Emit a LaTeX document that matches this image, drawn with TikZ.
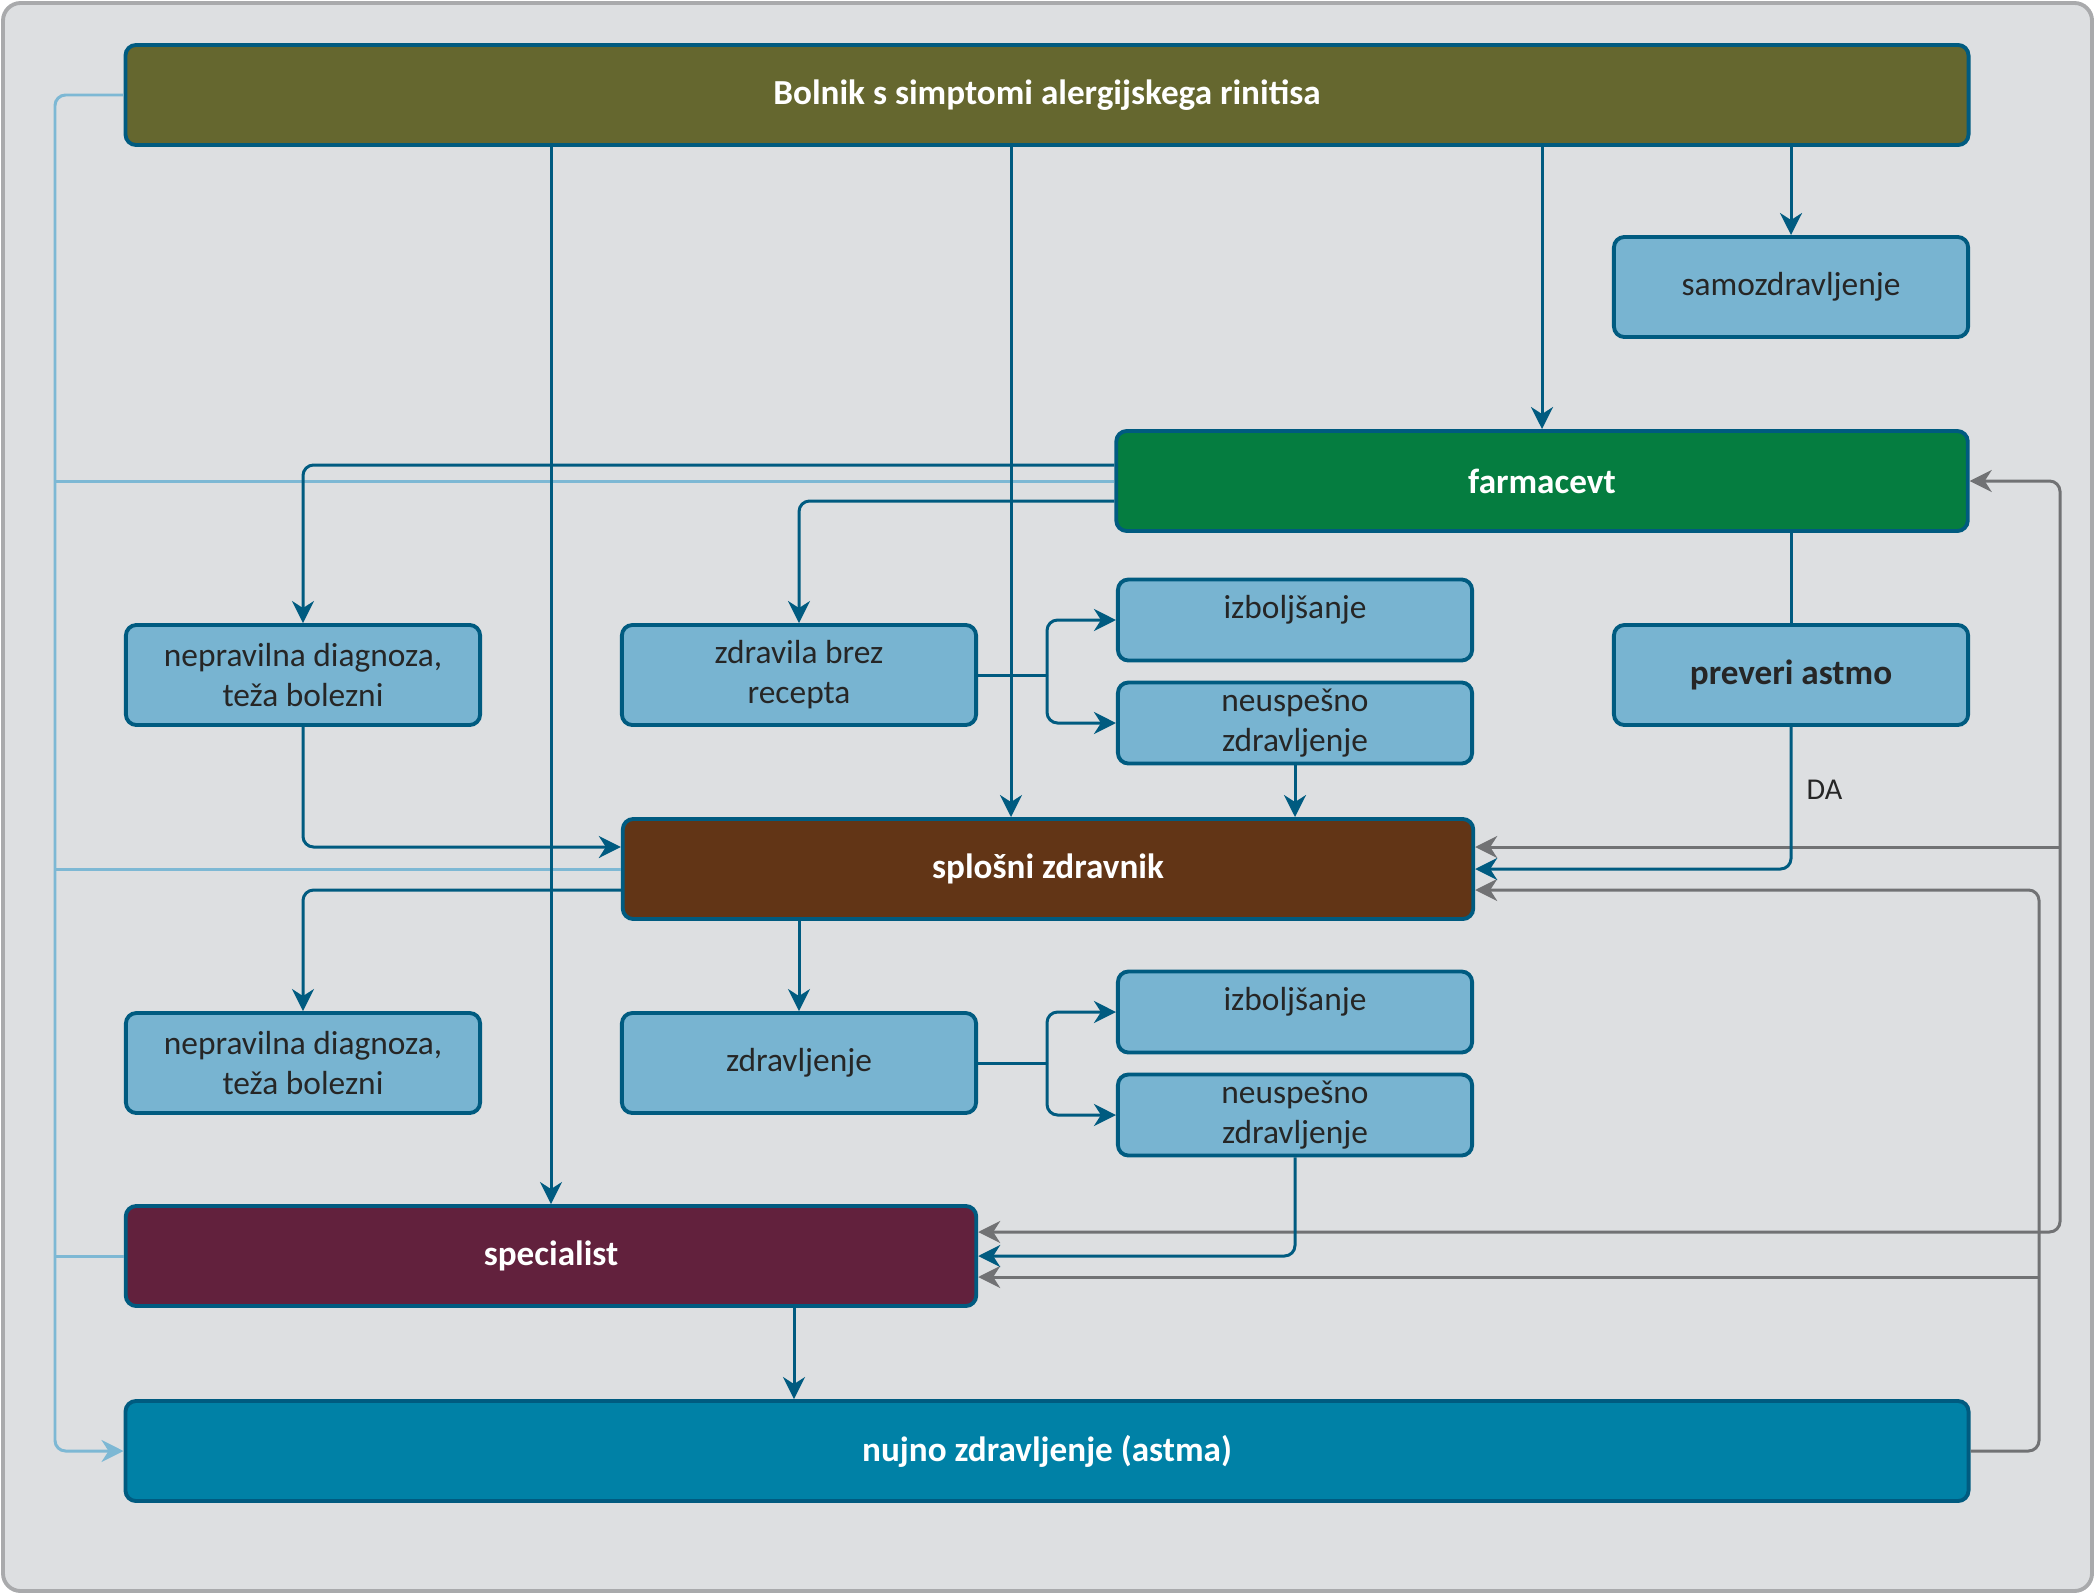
\documentclass[tikz,border=0pt]{standalone}
\usepackage{fontspec}
\setmainfont{Carlito}
\usetikzlibrary{arrows.meta,calc}
\definecolor{framegray}{HTML}{A9AAAC}
\definecolor{panelbg}{HTML}{DDDFE1}
\definecolor{edgeblue}{HTML}{005B80}
\definecolor{paleblue}{HTML}{78B4D1}
\definecolor{trunkblue}{HTML}{7DB8D4}
\definecolor{returngray}{HTML}{717274}
\definecolor{olive}{HTML}{65672F}
\definecolor{pharmgreen}{HTML}{057D40}
\definecolor{gpbrown}{HTML}{623516}
\definecolor{specplum}{HTML}{62213D}
\definecolor{urgentblue}{HTML}{0081A6}
\tikzset{
  >={Stealth[length=2.2mm,width=2.2mm,inset=0.7mm]},
  stage/.style={rounded corners=3pt, draw=edgeblue, line width=1.1pt, text=white, font=\fontsize{10}{12}\selectfont\bfseries, minimum height=1cm, inner sep=0pt},
  option/.style={rounded corners=3pt, draw=edgeblue, line width=1.1pt, fill=paleblue, text=black!85, align=center, font=\fontsize{9.5}{11.4}\selectfont, minimum width=3.54cm, minimum height=1cm, inner sep=0pt},
  flow/.style={->, draw=edgeblue, line width=0.85pt, rounded corners=3pt},
  back/.style={flow, draw=returngray},
  trunk/.style={draw=trunkblue, line width=0.85pt, rounded corners=3pt}
}
\begin{document}
\begin{tikzpicture}[x=0.01cm, y=-0.01cm]
  \useasboundingbox (0,0) rectangle (2095,1594);
  \draw[framegray, line width=1.1pt, fill=panelbg, rounded corners=5pt] (3,3) rectangle (2092,1591);

  \node[stage, fill=olive, minimum width=18.42cm] (patient) at (1047,95) {Bolnik s simptomi alergijskega rinitisa};
  \node[option] (selfcare) at (1791,287) {samozdravljenje};
  \node[stage, fill=pharmgreen, minimum width=8.51cm] (pharm) at (1542,481) {farmacevt};
  \node[option] (wrongA) at (303,675) {nepravilna diagnoza,\\teža bolezni};
  \node[option] (otc) at (799,675) {zdravila brez\\recepta};
  \node[option, minimum height=0.81cm, text depth=2.6mm] (betterA) at (1295,620) {izboljšanje};
  \node[option, minimum height=0.81cm] (failA) at (1295,723) {neuspešno\\zdravljenje};
  \node[option, font=\fontsize{10}{12}\selectfont\bfseries] (asthma) at (1791,675) {preveri astmo};
  \node[stage, fill=gpbrown, minimum width=8.5cm] (gp) at (1048,869) {splošni zdravnik};
  \node[option] (wrongB) at (303,1063) {nepravilna diagnoza,\\teža bolezni};
  \node[option] (therapy) at (799,1063) {zdravljenje};
  \node[option, minimum height=0.81cm, text depth=2.6mm] (betterB) at (1295,1012) {izboljšanje};
  \node[option, minimum height=0.81cm] (failB) at (1295,1115) {neuspešno\\zdravljenje};
  \node[stage, fill=specplum, minimum width=8.5cm] (spec) at (551,1256) {specialist};
  \node[stage, fill=urgentblue, minimum width=18.42cm] (urgent) at (1047,1451) {nujno zdravljenje (astma)};

  \coordinate (rail) at (55,95);
  \draw[trunk, ->] (patient.west) -- (rail) |- (urgent.west);
  \draw[trunk] (pharm.west) -- (pharm.west -| rail);
  \draw[trunk] (gp.west) -- (gp.west -| rail);
  \draw[trunk] (spec.west) -- (spec.west -| rail);

  \coordinate (loopA) at (2060,481);
  \coordinate (loopB) at (2039,890);
  \coordinate (gpA) at ($(gp.east)+(0,-22)$);
  \coordinate (gpB) at ($(gp.east)+(0,21)$);
  \coordinate (specA) at ($(spec.east)+(0,-24)$);
  \coordinate (specB) at ($(spec.east)+(0,21)$);
  \draw[back, <->] (specA) -| (loopA) -- (pharm.east);
  \draw[back] (loopA |- gpA) -- (gpA);
  \draw[back] (urgent.east) -| (loopB) -- (gpB);
  \draw[back] (loopB |- specB) -- (specB);

  \coordinate (gpdrop) at ($(gp.north)+(-37,0)$);
  \draw[flow] (patient.south -| spec.north) -- (spec.north);
  \draw[flow] (patient.south -| gpdrop) -- (gpdrop);
  \draw[flow] (patient.south -| pharm.north) -- (pharm.north);
  \draw[flow] (patient.south -| selfcare.north) -- (selfcare.north);
  \draw[flow] ($(pharm.west)+(0,-16)$) -| (wrongA.north);
  \draw[flow] ($(pharm.west)+(0,20)$) -| (otc.north);
  \coordinate (forkA) at ($(otc.east)!0.5!(otc.east -| betterA.west)$);
  \draw[flow, -] (otc.east) -- (forkA);
  \draw[flow] (forkA) |- (betterA.west);
  \draw[flow] (forkA) |- (failA.west);
  \draw[flow] (failA.south) -- (failA.south |- gp.north);
  \draw[flow, -] (pharm.south -| asthma.north) -- (asthma.north);
  \draw[flow] (asthma.south) |- node[pos=0.22, right, text=black!85, font=\fontsize{8.6}{10}\selectfont, inner sep=4pt] {DA} (gp.east);
  \draw[flow] (wrongA.south) |- ($(gp.west)+(0,-22)$);
  \draw[flow] ($(gp.west)+(0,21)$) -| (wrongB.north);
  \draw[flow] (gp.south -| therapy.north) -- (therapy.north);
  \coordinate (forkB) at ($(therapy.east)!0.5!(therapy.east -| betterB.west)$);
  \draw[flow, -] (therapy.east) -- (forkB);
  \draw[flow] (forkB) |- (betterB.west);
  \draw[flow] (forkB) |- (failB.west);
  \draw[flow] (failB.south) |- (spec.east);
  \coordinate (handoff) at ($(spec.south)+(243,0)$);
  \draw[flow] (handoff) -- (handoff |- urgent.north);
\end{tikzpicture}
\end{document}
